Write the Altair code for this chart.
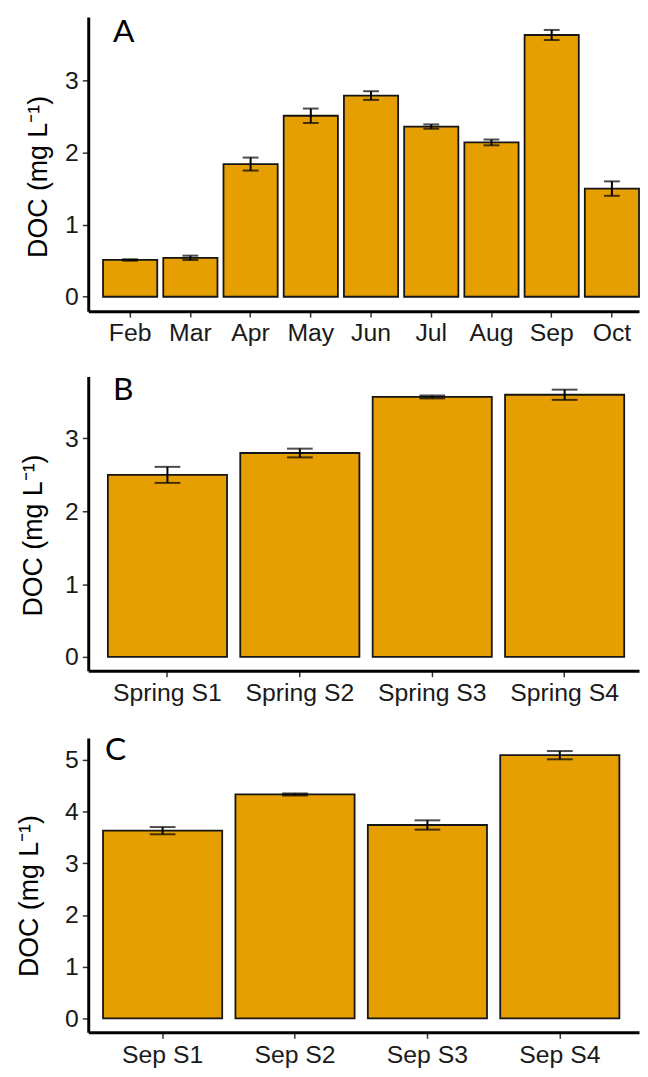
import altair as alt
import pandas as pd

# Panel A: monthly DOC
months = ["Feb", "Mar", "Apr", "May", "Jun", "Jul", "Aug", "Sep", "Oct"]
doc_a = [0.51, 0.54, 1.84, 2.51, 2.79, 2.36, 2.14, 3.63, 1.50]
se_a = [0.01, 0.03, 0.09, 0.10, 0.06, 0.03, 0.04, 0.07, 0.10]

# Panel B: spring sites
spring_sites = ["Spring S1", "Spring S2", "Spring S3", "Spring S4"]
doc_b = [2.50, 2.80, 3.57, 3.60]
se_b = [0.11, 0.06, 0.02, 0.07]

# Panel C: September sites
sep_sites = ["Sep S1", "Sep S2", "Sep S3", "Sep S4"]
doc_c = [3.63, 4.33, 3.74, 5.09]
se_c = [0.07, 0.02, 0.09, 0.08]

panel_letters = ["A", "B", "C"]
ticks_ab = [0, 1, 2, 3]
ticks_c = [0, 1, 2, 3, 4, 5]

Y_TITLE = "DOC  (mg L\u207b\u00b9)"
FILL = "#E69F00"


def panel(cats, vals, errs, letter, domain, ticks, width, height, pad_outer,
          band_align, whisker, letter_x, letter_y, title_pad, title_y):
    df = pd.DataFrame({
        "cat": cats,
        "doc": vals,
        "lo": [v - e for v, e in zip(vals, errs)],
        "hi": [v + e for v, e in zip(vals, errs)],
    })
    xenc = alt.X("cat:N", sort=cats, title=None,
                 scale=alt.Scale(paddingInner=0.1, paddingOuter=pad_outer,
                                 align=band_align),
                 axis=alt.Axis(labelAngle=0))
    yscale = alt.Scale(domain=domain, nice=False, zero=False)
    yaxis = alt.Axis(values=ticks, title=Y_TITLE, titlePadding=title_pad,
                     titleY=title_y, format="d")
    base = alt.Chart(df)
    bars = base.mark_bar(color=FILL, stroke="#151515", strokeWidth=1.8).encode(
        x=xenc, y=alt.Y("doc:Q", scale=yscale, axis=yaxis), y2=alt.datum(0))
    rule = base.mark_rule(color="black", strokeWidth=2).encode(
        x=xenc, y=alt.Y("lo:Q", scale=yscale), y2="hi:Q")
    wlo = base.mark_tick(color="black", thickness=2, size=whisker).encode(
        x=xenc, y=alt.Y("lo:Q", scale=yscale))
    whi = base.mark_tick(color="black", thickness=2, size=whisker).encode(
        x=xenc, y=alt.Y("hi:Q", scale=yscale))
    lab = alt.Chart(pd.DataFrame({"t": [letter]})).mark_text(
        align="left", baseline="alphabetic", font="Lato", fontSize=32,
        color="black").encode(x=alt.value(letter_x), y=alt.value(letter_y),
                              text="t:N")
    return alt.layer(bars, rule, wlo, whi, lab).properties(width=width, height=height)


pA = panel(months, doc_a, se_a, panel_letters[0], [-0.2, 3.88], ticks_ab,
           556, 297, 0.123, 1.0, 16, 25, 25, 12, 161)
pB = panel(spring_sites, doc_b, se_b, panel_letters[1], [-0.19, 3.85], ticks_ab,
           556, 297, 0.13, 0.57, 26, 25, 24, 17, 160)
pC = panel(sep_sites, doc_c, se_c, panel_letters[2], [-0.27, 5.42], ticks_c,
           556, 297, 0.13, 0.43, 26, 17, 22, 21, 159)

chart = alt.vconcat(pA, pB, pC, spacing=29).properties(
    padding={"left": 8, "top": 3, "right": 0, "bottom": 0}
).configure_view(stroke=None).configure_axis(
    grid=False,
    domainColor="black", domainWidth=3,
    tickColor="#333333", tickWidth=1.5, tickSize=6,
    labelFont="Liberation Sans", labelFontSize=25, labelColor="#1a1a1a",
    labelPadding=4,
    titleFont="Liberation Sans", titleFontSize=27, titleFontWeight="normal",
    titleColor="black",
)

chart.save("out.html", embed_options={"renderer": "svg", "actions": False})
